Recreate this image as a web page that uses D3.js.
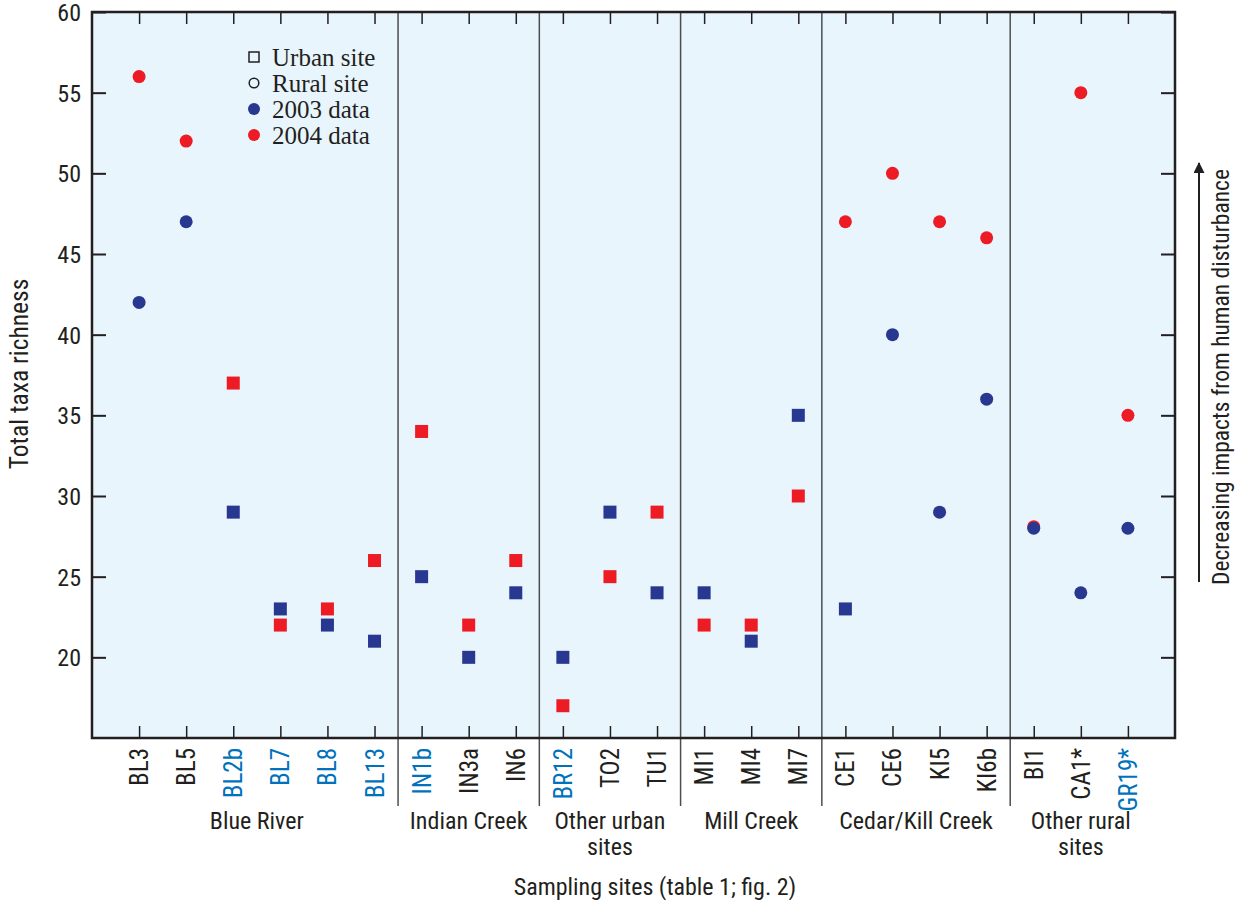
<!DOCTYPE html>
<html>
<head>
<meta charset="utf-8">
<script src="https://cdn.jsdelivr.net/npm/d3@7"></script>
<style>
  body { margin: 0; background: #fff; }
  text { font-family: "Liberation Sans Narrow", "Roboto Condensed", "Liberation Sans", Arial, sans-serif; fill: #231f20; }
  .legend text { font-family: "Liberation Serif", "Times New Roman", serif; }
</style>
</head>
<body>
<svg width="1238" height="900"></svg>
<script>
// sites, left to right
const sites = ["BL3","BL5","BL2b","BL7","BL8","BL13","IN1b","IN3a","IN6","BR12","TO2","TU1",
               "MI1","MI4","MI7","CE1","CE6","KI5","KI6b","BI1","CA1*","GR19*"];
// sites whose label is printed in blue
const blueLabels = ["BL2b","BL7","BL8","BL13","IN1b","BR12","GR19*"];
// marker shape per site: s = urban (square), c = rural (circle)
const shape2003 = ["c","c","s","s","s","s","s","s","s","s","s","s","s","s","s","s","c","c","c","c","c","c"];
const shape2004 = ["c","c","s","s","s","s","s","s","s","s","s","s","s","s","s","c","c","c","c","c","c","c"];
const data2003 = [42,47,29,23,22,21,25,20,24,20,29,24,24,21,35,23,40,29,36,28,24,28];
const data2004 = [56,52,37,22,23,26,34,22,26,17,25,29,22,22,30,47,50,47,46,28.1,55,35];
// groups: label lines and first/last site index
const groupNames = [["Blue River"],["Indian Creek"],["Other urban","sites"],["Mill Creek"],["Cedar/Kill Creek"],["Other rural","sites"]];
const groupStart = [0,6,9,12,15,19];
const groupEnd   = [5,8,11,14,18,21];
const yTicks = [20,25,30,35,40,45,50,55,60];

const plotL = 92, plotR = 1175, plotT = 12, plotB = 738;
const svg = d3.select("svg");

const x = d3.scalePoint().domain(sites).range([plotL, plotR]).padding(1);
const y = d3.scaleLinear().domain([15, 60]).range([plotB, plotT]);
const step = x.step();

const blue = "#283891", red = "#ed1c24", ink = "#231f20";

svg.append("rect")
    .attr("x", plotL).attr("y", plotT)
    .attr("width", plotR - plotL).attr("height", plotB - plotT)
    .attr("fill", "#e8f5fc");

// group separators (extend below the axis into the label area)
groupStart.slice(1).forEach(function(s) {
    let xs = x(sites[s]) - step / 2;
    svg.append("line")
        .attr("x1", xs).attr("x2", xs)
        .attr("y1", plotT).attr("y2", 806)
        .attr("stroke", "#4d4d4f").attr("stroke-width", 1.5);
});

// axes with inward ticks
svg.append("g").attr("transform", `translate(${plotL},0)`)
    .call(d3.axisLeft(y).tickValues(yTicks).tickSize(0).tickPadding(11))
    .call(g => g.select(".domain").remove())
    .call(g => g.selectAll("text").attr("font-size", 24).attr("dy", "0.36em"));
svg.append("g").attr("transform", `translate(${plotL},0)`)
    .call(d3.axisRight(y).tickValues(yTicks).tickSize(14).tickFormat(""))
    .call(g => g.select(".domain").remove())
    .call(g => g.selectAll("line").attr("stroke", ink).attr("stroke-width", 2));
svg.append("g").attr("transform", `translate(${plotR},0)`)
    .call(d3.axisLeft(y).tickValues(yTicks).tickSize(14).tickFormat(""))
    .call(g => g.select(".domain").remove())
    .call(g => g.selectAll("line").attr("stroke", ink).attr("stroke-width", 2));
svg.append("g").attr("transform", `translate(0,${plotT})`)
    .call(d3.axisBottom(x).tickSize(12).tickFormat(""))
    .call(g => g.select(".domain").remove())
    .call(g => g.selectAll("line").attr("stroke", ink).attr("stroke-width", 1.5));
svg.append("g").attr("transform", `translate(0,${plotB})`)
    .call(d3.axisTop(x).tickSize(12).tickFormat(""))
    .call(g => g.select(".domain").remove())
    .call(g => g.selectAll("line").attr("stroke", ink).attr("stroke-width", 1.5));

svg.append("rect")
    .attr("x", plotL).attr("y", plotT)
    .attr("width", plotR - plotL).attr("height", plotB - plotT)
    .attr("fill", "none").attr("stroke", ink).attr("stroke-width", 2.5);

// site labels, rotated
svg.append("g").selectAll("text")
    .data(sites).enter().append("text")
    .attr("transform", d => `translate(${x(d) + 9},${plotB + 10}) rotate(-90)`)
    .attr("text-anchor", "end")
    .attr("font-size", 25)
    .style("fill", d => blueLabels.includes(d) ? "#0072bc" : ink)
    .text(d => d);

// group labels
groupNames.forEach(function(lines, i) {
    let cx = (x(sites[groupStart[i]]) + x(sites[groupEnd[i]])) / 2;
    lines.forEach(function(t, j) {
        svg.append("text")
            .attr("x", cx).attr("y", 829 + j * 26)
            .attr("text-anchor", "middle")
            .attr("font-size", 24)
            .text(t);
    });
});

svg.append("text")
    .attr("x", 655).attr("y", 895)
    .attr("text-anchor", "middle").attr("font-size", 24)
    .text("Sampling sites (table 1; fig. 2)");

svg.append("text")
    .attr("transform", "translate(28,374) rotate(-90)")
    .attr("text-anchor", "middle").attr("font-size", 25.5)
    .text("Total taxa richness");

// right-hand arrow and note
svg.append("defs").append("marker")
    .attr("id", "arrow").attr("viewBox", "0 0 10 10")
    .attr("refX", 9).attr("refY", 5)
    .attr("markerWidth", 20).attr("markerHeight", 11)
    .attr("markerUnits", "userSpaceOnUse")
    .attr("orient", "auto")
    .append("path").attr("d", "M0,0 L10,5 L0,10 z").attr("fill", ink);
svg.append("line")
    .attr("x1", 1199).attr("x2", 1199)
    .attr("y1", 582).attr("y2", 163)
    .attr("stroke", ink).attr("stroke-width", 2)
    .attr("marker-end", "url(#arrow)");
svg.append("text")
    .attr("transform", "translate(1229,377) rotate(-90)")
    .attr("text-anchor", "middle").attr("font-size", 23.5)
    .text("Decreasing impacts from human disturbance");

// points
function drawSeries(values, shapes, color) {
    let g = svg.append("g");
    sites.forEach(function(s, i) {
        let cx = x(s), cy = y(values[i]);
        if (shapes[i] === "s") {
            g.append("rect").attr("x", cx - 6.5).attr("y", cy - 6.5)
                .attr("width", 13).attr("height", 13).attr("fill", color);
        } else {
            g.append("circle").attr("cx", cx).attr("cy", cy).attr("r", 6.5).attr("fill", color);
        }
    });
}
drawSeries(data2004, shape2004, red);
drawSeries(data2003, shape2003, blue);

// legend
const legendItems = [
    { label: "Urban site", kind: "s", fill: "none" },
    { label: "Rural site", kind: "c", fill: "none" },
    { label: "2003 data", kind: "c", fill: blue },
    { label: "2004 data", kind: "c", fill: red }
];
let legend = svg.append("g").attr("class", "legend");
legendItems.forEach(function(d, i) {
    let ly = 57 + i * 26;
    if (d.kind === "s") {
        legend.append("rect").attr("x", 249).attr("y", ly - 5).attr("width", 10).attr("height", 10)
            .attr("fill", "none").attr("stroke", ink).attr("stroke-width", 1.5);
    } else if (d.fill === "none") {
        legend.append("circle").attr("cx", 254).attr("cy", ly).attr("r", 4.8)
            .attr("fill", "none").attr("stroke", ink).attr("stroke-width", 1.5);
    } else {
        legend.append("circle").attr("cx", 254).attr("cy", ly).attr("r", 6).attr("fill", d.fill);
    }
    legend.append("text").attr("x", 272).attr("y", ly + 9)
        .attr("font-size", 25).text(d.label);
});
</script>
</body>
</html>
